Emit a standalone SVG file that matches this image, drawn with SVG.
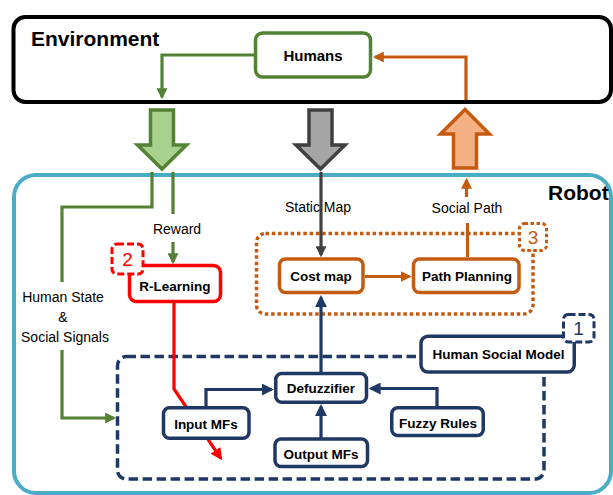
<svg xmlns="http://www.w3.org/2000/svg" width="613" height="495" viewBox="0 0 613 495">
<style>
text{font-family:"Liberation Sans",Arial,sans-serif;fill:#000}
.title{font-size:21px;font-weight:bold}
.node{font-size:13.5px;font-weight:bold;text-anchor:middle}
.lbl{font-size:14px;text-anchor:middle}
.badge{font-size:19px;text-anchor:middle}
.box{fill:#fff;stroke-width:3.5}
.g{stroke:#548235}.o{stroke:#C55A11}.r{stroke:#FF0000}.n{stroke:#1F3864}.k{stroke:#404040}
.ln{fill:none;stroke-width:3.2}
</style>
<defs>
<marker id="ag" viewBox="0 0 10 10" refX="8" refY="5" markerWidth="11" markerHeight="11" markerUnits="userSpaceOnUse" orient="auto"><path d="M0,0 L10,5 L0,10 z" fill="#548235"/></marker>
<marker id="ao" viewBox="0 0 10 10" refX="8" refY="5" markerWidth="11" markerHeight="11" markerUnits="userSpaceOnUse" orient="auto"><path d="M0,0 L10,5 L0,10 z" fill="#C55A11"/></marker>
<marker id="ak" viewBox="0 0 10 10" refX="8" refY="5" markerWidth="11" markerHeight="11" markerUnits="userSpaceOnUse" orient="auto"><path d="M0,0 L10,5 L0,10 z" fill="#404040"/></marker>
<marker id="an" viewBox="0 0 10 10" refX="8" refY="5" markerWidth="12" markerHeight="12" markerUnits="userSpaceOnUse" orient="auto"><path d="M0,0 L10,5 L0,10 z" fill="#1F3864"/></marker>
<marker id="ar" viewBox="0 0 10 10" refX="8" refY="5" markerWidth="12" markerHeight="12" markerUnits="userSpaceOnUse" orient="auto"><path d="M0,0 L10,5 L0,10 z" fill="#FF0000"/></marker>
</defs>
<rect width="613" height="495" fill="#fff"/>

<g id="robot">
<rect x="14" y="175" width="597" height="318" rx="22" fill="#fff" stroke="#4BACC6" stroke-width="4"/>
<text class="title" x="548" y="200">Robot</text>
</g>

<g id="environment">
<rect x="13.5" y="17" width="597.5" height="85" rx="12" fill="#fff" stroke="#000" stroke-width="4"/>
<text class="title" x="31" y="46">Environment</text>
</g>

<g id="block-arrows" stroke-width="3.5" stroke-linejoin="miter">
<path id="arrow-humanstate" d="M150.5,110 H173.5 V145 H186.5 L162,169 L137.5,145 H150.5 Z" fill="#A9D18E" stroke="#548235"/>
<path id="arrow-staticmap" d="M309,110 H332 V145 H345 L320.5,169 L296,145 H309 Z" fill="#A6A6A6" stroke="#404040"/>
<path id="arrow-socialpath" d="M453.5,168 H476.5 V134 H489.5 L465,109.5 L440.5,134 H453.5 Z" fill="#F4B183" stroke="#C55A11"/>
</g>

<g id="groups">
<rect id="group-fuzzy" x="117.5" y="356.5" width="426.5" height="122.5" rx="9" fill="none" stroke="#1F3864" stroke-width="3.5" stroke-dasharray="9.5 4.5"/>
<rect id="group-planning" x="256.5" y="233.5" width="276.5" height="80.5" rx="9" fill="none" stroke="#C55A11" stroke-width="3.5" stroke-dasharray="3.5 2.8"/>
</g>

<g id="connectors">
<path class="ln g" d="M255,55 H162 V97" marker-end="url(#ag)"/>
<path class="ln o" d="M466,100 V57 H375" marker-end="url(#ao)"/>
<path class="ln g" d="M152,172 V207 H62 V282"/>
<path class="ln g" d="M62,350 V418 H114" marker-end="url(#ag)"/>
<path class="ln g" d="M173,172 V214"/>
<path class="ln g" d="M173,242 V262" marker-end="url(#ag)"/>
<path class="ln r" d="M174,303 V389 L220.8,458.3" marker-end="url(#ar)"/>
<path class="ln k" d="M321,172 V255" marker-end="url(#ak)"/>
<path class="ln o" d="M365,276.5 H409.5" marker-end="url(#ao)"/>
<path class="ln o" d="M467.5,257 V223"/>
<path class="ln o" d="M466.5,197 V180" marker-end="url(#ao)"/>
<path class="ln n" d="M321,373 V297.5" marker-end="url(#an)"/>
<path class="ln n" d="M206,407 V389.5 H271.5" marker-end="url(#an)"/>
<path class="ln n" d="M321,439 V406.5" marker-end="url(#an)"/>
<path class="ln n" d="M437,407 V388.5 H371" marker-end="url(#an)"/>
</g>

<g id="labels">
<text class="lbl" x="177" y="234">Reward</text>
<text class="lbl" x="63" y="301.5">Human State</text>
<text class="lbl" x="63" y="321.5">&amp;</text>
<text class="lbl" x="65" y="341.5">Social Signals</text>
<text class="lbl" x="318" y="211.5">Static Map</text>
<text class="lbl" x="467" y="213">Social Path</text>
</g>

<g id="humans"><rect class="box g" x="255.5" y="33" width="115" height="44" rx="7"/><text class="node" style="font-size:15px" x="313" y="60.5">Humans</text></g>
<g id="r-learning"><rect class="box r" x="129.5" y="265.5" width="91" height="36" rx="7"/><text class="node" x="175" y="291">R-Learning</text></g>
<g id="cost-map"><rect class="box o" x="279.5" y="259" width="83.5" height="33.5" rx="6"/><text class="node" x="321" y="281">Cost map</text></g>
<g id="path-planning"><rect class="box o" x="413.5" y="259" width="105.5" height="33.5" rx="6"/><text class="node" x="467" y="281">Path Planning</text></g>
<g id="human-social-model"><rect class="box n" x="421" y="336.25" width="153.25" height="35.7" rx="7"/><text class="node" x="498.5" y="359.3">Human Social Model</text></g>
<g id="defuzzifier"><rect class="box n" x="275.75" y="373.5" width="90.75" height="28.75" rx="6"/><text class="node" x="321" y="393">Defuzzifier</text></g>
<g id="input-mfs"><rect class="box n" x="163.5" y="407.75" width="85.5" height="30.5" rx="6"/><text class="node" x="206" y="429">Input MFs</text></g>
<g id="output-mfs"><rect class="box n" x="275" y="439" width="92.5" height="27.5" rx="6"/><text class="node" x="321" y="458.5">Output MFs</text></g>
<g id="fuzzy-rules"><rect class="box n" x="391.75" y="407.75" width="91.5" height="27.8" rx="6"/><text class="node" x="438" y="427.7">Fuzzy Rules</text></g>

<g id="badge-2"><rect x="112" y="244" width="31" height="30" rx="5" fill="#fff" stroke="#FF0000" stroke-width="3" stroke-dasharray="7 3"/><text class="badge" x="127.5" y="266" style="fill:#FF0000">2</text></g>
<g id="badge-3"><rect x="519.5" y="223.5" width="27" height="27" rx="5" fill="#fff" stroke="#C55A11" stroke-width="3" stroke-dasharray="3.5 2.5"/><text class="badge" x="533" y="244" style="fill:#C55A11">3</text></g>
<g id="badge-1"><rect x="563.5" y="314.5" width="30.5" height="27.5" rx="5" fill="#fff" stroke="#1F3864" stroke-width="3" stroke-dasharray="7 3"/><text class="badge" x="578.5" y="335" style="fill:#1F3864">1</text></g>
</svg>
